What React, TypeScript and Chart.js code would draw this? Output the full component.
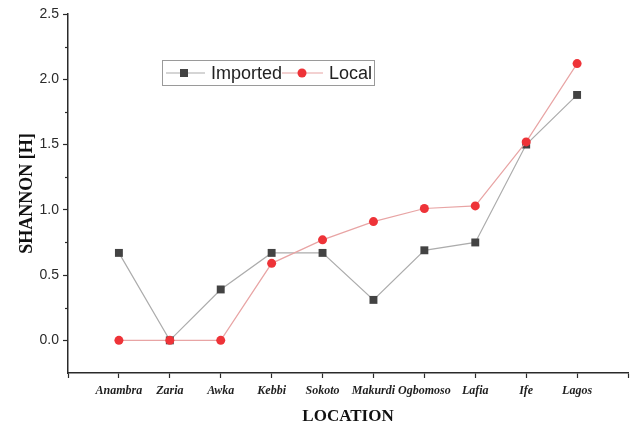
import React, { useEffect, useRef } from "react";
import { Chart, registerables } from "chart.js";

Chart.register(...registerables);

const locations = ["Anambra", "Zaria", "Awka", "Kebbi", "Sokoto", "Makurdi", "Ogbomoso", "Lafia", "Ife", "Lagos"];
const importedValues = [0.67, 0.0, 0.39, 0.67, 0.67, 0.31, 0.69, 0.75, 1.5, 1.88];
const localValues = [0.0, 0.0, 0.0, 0.59, 0.77, 0.91, 1.01, 1.03, 1.52, 2.12];
const yMajorTicks = [0, 0.5, 1.0, 1.5, 2.0, 2.5];
const yMinorTicks = [0.25, 0.75, 1.25, 1.75, 2.25];

const IMPORTED_LINE = "#acacac";
const IMPORTED_POINT = "#434343";
const LOCAL_LINE = "#e8a4a4";
const LOCAL_POINT = "#ee3338";
const AXIS = "#2a2a2a";

const minorTicksPlugin = {
  id: "minorTicks",
  afterDraw(chart: any) {
    const y = chart.scales.y;
    const ctx = chart.ctx;
    ctx.save();
    ctx.strokeStyle = AXIS;
    ctx.lineWidth = 1.2;
    for (const v of yMinorTicks) {
      const py = Math.round(y.getPixelForValue(v)) + 0.5;
      ctx.beginPath();
      ctx.moveTo(y.right - 3, py);
      ctx.lineTo(y.right, py);
      ctx.stroke();
    }
    ctx.restore();
  },
};

const legendPlugin = {
  id: "customLegend",
  afterDraw(chart: any) {
    const ctx = chart.ctx;
    const ds = chart.data.datasets;
    ctx.save();
    const bx = 162, by = 60, bw = 212, bh = 25;
    ctx.strokeStyle = "#9a9a9a";
    ctx.lineWidth = 1;
    ctx.strokeRect(bx + 0.5, by + 0.5, bw, bh);
    const cy = by + 13;
    ctx.font = "18px 'Liberation Sans', Arial, sans-serif";
    ctx.textBaseline = "middle";
    ctx.fillStyle = "#222";
    // Imported
    ctx.strokeStyle = IMPORTED_LINE;
    ctx.lineWidth = 1.2;
    ctx.beginPath();
    ctx.moveTo(166, cy);
    ctx.lineTo(205, cy);
    ctx.stroke();
    ctx.fillStyle = IMPORTED_POINT;
    ctx.fillRect(184 - 4, cy - 4, 8, 8);
    ctx.fillStyle = "#222";
    ctx.fillText(ds[0].label, 211, cy + 1);
    // Local
    ctx.strokeStyle = LOCAL_LINE;
    ctx.beginPath();
    ctx.moveTo(282, cy);
    ctx.lineTo(323, cy);
    ctx.stroke();
    ctx.fillStyle = LOCAL_POINT;
    ctx.beginPath();
    ctx.arc(302, cy, 4.5, 0, Math.PI * 2);
    ctx.fill();
    ctx.fillStyle = "#222";
    ctx.fillText(ds[1].label, 329, cy + 1);
    ctx.restore();
  },
};

export default function App() {
  const ref = useRef<HTMLCanvasElement>(null);

  useEffect(() => {
    if (!ref.current) return;
    const chart = new Chart(ref.current, {
      type: "line",
      data: {
        datasets: [
          {
            label: "Imported",
            data: importedValues.map((v, i) => ({ x: i, y: v })),
            borderColor: IMPORTED_LINE,
            borderWidth: 1.2,
            pointStyle: "rect",
            pointRadius: 5.6,
            pointBackgroundColor: IMPORTED_POINT,
            pointBorderColor: IMPORTED_POINT,
            pointBorderWidth: 0,
            order: 2,
          },
          {
            label: "Local",
            data: localValues.map((v, i) => ({ x: i, y: v })),
            borderColor: LOCAL_LINE,
            borderWidth: 1.2,
            pointStyle: "circle",
            pointRadius: 4.5,
            pointBackgroundColor: LOCAL_POINT,
            pointBorderColor: LOCAL_POINT,
            pointBorderWidth: 0,
            order: 1,
          },
        ],
      },
      options: {
        responsive: false,
        animation: false,
        layout: { padding: { left: 0, top: 14, right: 9, bottom: 0 } },
        plugins: { legend: { display: false }, tooltip: { enabled: false } },
        scales: {
          x: {
            type: "linear",
            min: -1,
            max: locations.length,
            afterFit: (s: any) => { s.height = 50; },
            afterBuildTicks: (s: any) => {
              const t = [];
              for (let i = -1; i <= locations.length; i++) t.push({ value: i });
              s.ticks = t;
            },
            ticks: {
              autoSkip: false,
              maxRotation: 0,
              padding: 6,
              color: "#1e1e1e",
              font: { family: "'Liberation Serif', serif", size: 12, style: "italic", weight: "bold" },
              callback: (v: any) => (v >= 0 && v < locations.length ? locations[v] : ""),
            },
            grid: { drawOnChartArea: false, drawTicks: true, tickLength: 5, tickColor: AXIS, tickWidth: 1.2 },
            border: { display: true, color: AXIS, width: 1.5 },
            title: {
              display: true,
              text: "LOCATION",
              color: "#111",
              font: { family: "'Liberation Serif', serif", size: 17, weight: "bold", lineHeight: 0.8 },
              padding: { top: 0, bottom: 0 },
            },
          },
          y: {
            min: -0.25,
            max: 2.5,
            afterFit: (s: any) => { s.width = 68; },
            afterBuildTicks: (s: any) => {
              s.ticks = yMajorTicks.map((v) => ({ value: v }));
            },
            ticks: {
              padding: 4,
              color: "#2a2a2a",
              font: { family: "'Liberation Sans', Arial, sans-serif", size: 14 },
              callback: (v: any) => Number(v).toFixed(1),
            },
            grid: { drawOnChartArea: false, drawTicks: true, tickLength: 5, tickColor: AXIS, tickWidth: 1.2 },
            border: { display: true, color: AXIS, width: 1.5 },
            title: {
              display: true,
              text: "SHANNON [H]",
              color: "#111",
              font: { family: "'Liberation Serif', serif", size: 18, weight: "bold", lineHeight: 1.2 },
              padding: { top: 17, bottom: 0 },
            },
          },
        },
      },
      plugins: [minorTicksPlugin, legendPlugin],
    });
    return () => chart.destroy();
  }, []);

  return (
    <div style={{ position: "fixed", left: 0, top: 0, width: 637, height: 423, background: "#fff" }}>
      <canvas ref={ref} width={637} height={423} style={{ display: "block" }} />
    </div>
  );
}
